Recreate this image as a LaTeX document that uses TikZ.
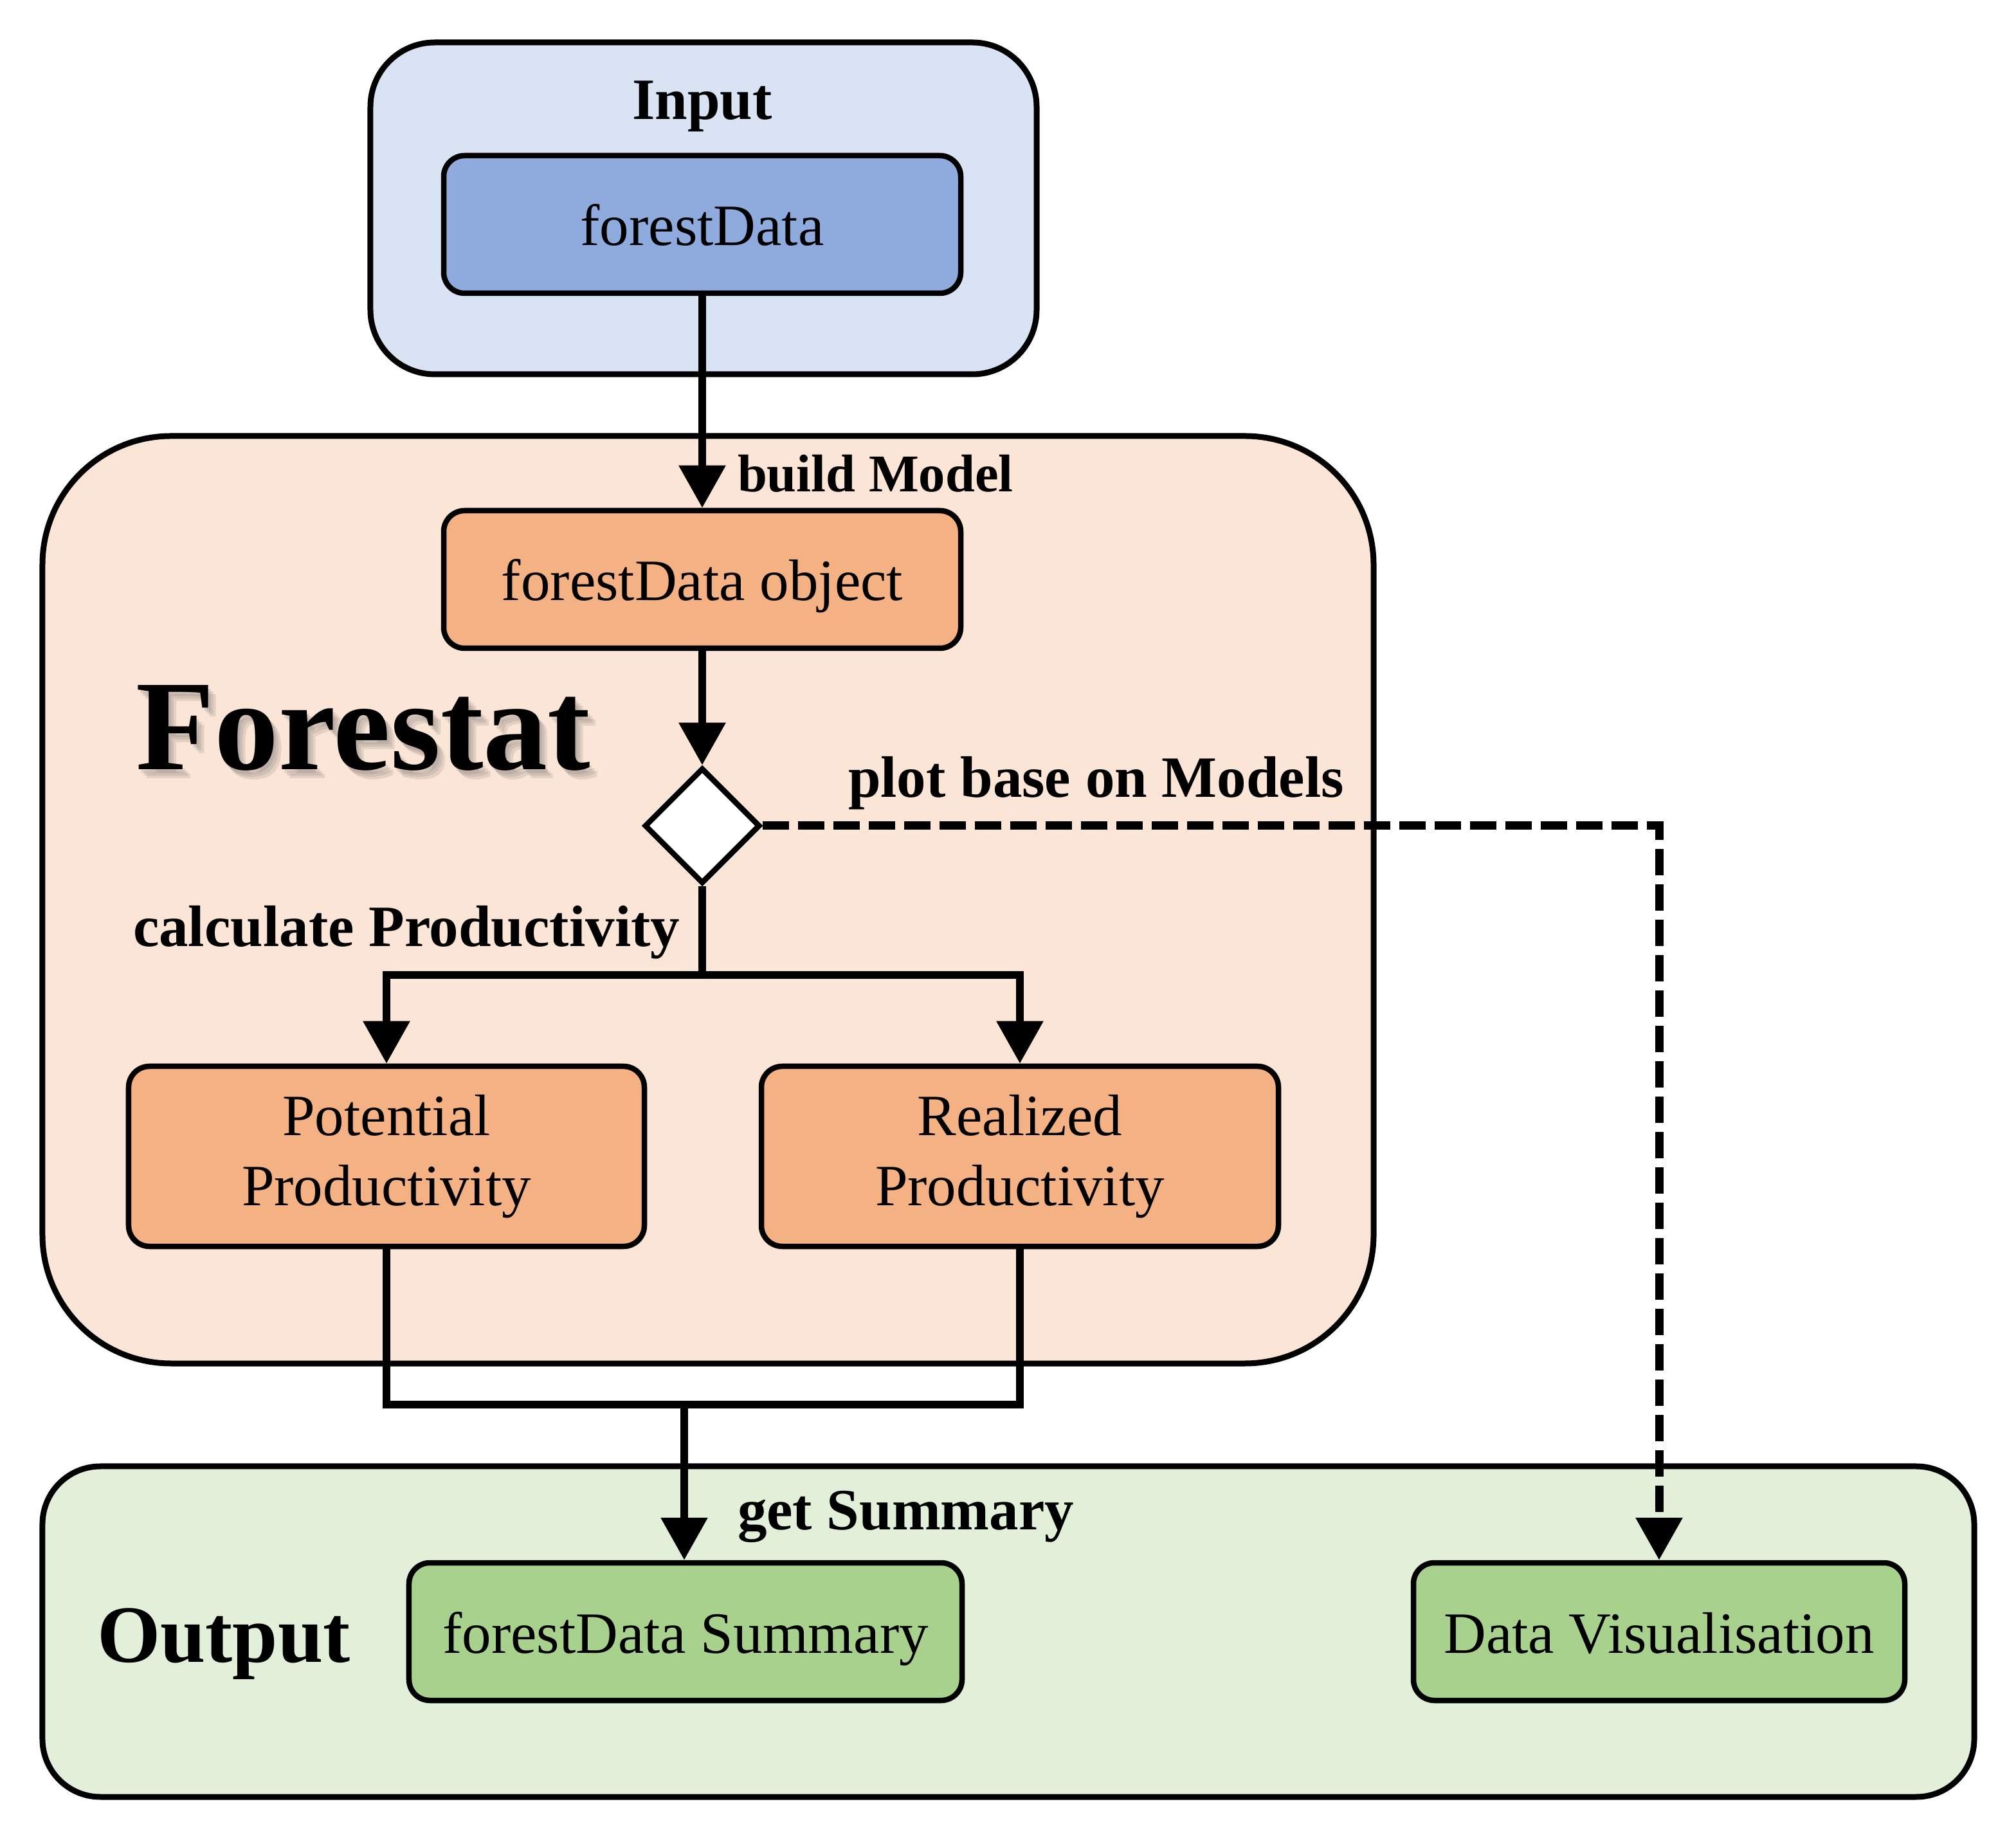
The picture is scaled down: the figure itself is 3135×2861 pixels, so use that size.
\documentclass[tikz,border=0pt]{standalone}
\usepackage{fontspec}
\setmainfont{Liberation Serif}
\usetikzlibrary{arrows.meta,shapes.geometric}
\definecolor{inbg}{HTML}{DAE3F3}
\definecolor{innode}{HTML}{8FAADC}
\definecolor{fsbg}{HTML}{FBE5D6}
\definecolor{fsnode}{HTML}{F4B183}
\definecolor{outbg}{HTML}{E2F0D9}
\definecolor{outnode}{HTML}{A9D18E}
\newcommand{\mytopstrut}{\rule{0pt}{17.2pt}}
\newcommand{\mybotstrut}{\rule[-4pt]{0pt}{4pt}}
\tikzset{
  container/.style={draw=black, line width=1.8pt, inner sep=0pt},
  box/.style={draw=black, line width=1.7pt, rounded corners=6.5pt, inner sep=0pt, align=center,
    font=\fontsize{18.2}{21.8}\selectfont,
    execute at begin node=\mytopstrut, execute at end node=\mybotstrut},
  lbl/.style={inner sep=0pt, anchor=base west, font=\fontsize{18.2}{21.8}\selectfont\bfseries},
  conn/.style={line width=2.5pt, -{Triangle[length=13.2pt,width=14pt]}},
  plainconn/.style={line width=2.5pt},
  dconn/.style={line width=2.6pt, dash pattern=on 8.2pt off 2.8pt, -{Triangle[length=13.2pt,width=14pt]}},
  shadowtext/.style={inner sep=0pt, anchor=base west, font=\fontsize{40}{48}\selectfont\bfseries, text=black!60, opacity=0.16},
}
\begin{document}
\begin{tikzpicture}[x=0.2pt,y=-0.2pt]
\useasboundingbox (0,0) rectangle (3135,2861);
% containers
\node[container, fill=inbg, rounded corners=20pt, minimum width=207.2pt, minimum height=103.2pt] (inputc) at (1094,324) {};
\node[container, fill=fsbg, rounded corners=40pt, minimum width=414pt, minimum height=288.4pt] (forestc) at (1101,1399) {};
\node[container, fill=outbg, rounded corners=18pt, minimum width=600.8pt, minimum height=102.8pt] (outputc) at (1568,2537) {};
% container titles
\node[inner sep=0pt, anchor=base, font=\fontsize{18.2}{21.8}\selectfont\bfseries] (inputt) at (1092,186) {Input};
\node[shadowtext] (forestshadowa) at (214,1203) {Forestat};
\node[shadowtext] (forestshadowb) at (218,1207) {Forestat};
\node[shadowtext] (forestshadowc) at (222,1211) {Forestat};
\node[inner sep=0pt, anchor=base west, font=\fontsize{40}{48}\selectfont\bfseries] (forestt) at (210,1197) {Forestat};
\node[inner sep=0pt, anchor=base west, font=\fontsize{25.3}{30}\selectfont\bfseries] (outputt) at (150,2584) {Output};
% nodes
\node[box, fill=innode, minimum width=160.8pt, minimum height=42.8pt] (fd) at (1092,349) {forestData};
\node[box, fill=fsnode, minimum width=160.8pt, minimum height=42.8pt] (fdo) at (1092,901) {forestData object};
\node[diamond, draw=black, fill=white, line width=1.7pt, minimum width=36pt, minimum height=36pt, inner sep=0pt] (dia) at (1092,1284) {};
\node[box, fill=fsnode, minimum width=160.4pt, minimum height=56pt] (pot) at (601,1798) {Potential\\Productivity};
\node[box, fill=fsnode, minimum width=160.8pt, minimum height=56pt] (real) at (1586,1798) {Realized\\Productivity};
\node[box, fill=outnode, minimum width=172pt, minimum height=42.8pt] (sum) at (1066,2537) {forestData Summary};
\node[box, fill=outnode, minimum width=152.8pt, minimum height=42.8pt] (vis) at (2580,2537) {Data Visualisation};
% labels
\node[lbl, font=\fontsize{16.5}{20}\selectfont\bfseries] (lbuild) at (1146,765) {build Model};
\node[lbl] (lplot) at (1318,1240) {plot base on Models};
\node[lbl] (lcalc) at (206,1472) {calculate Productivity};
\node[lbl] (lsum) at (1146,2378) {get Summary};
% coordinates
\coordinate (split) at (1092,1516);
\coordinate (merge) at (1064,2184);
% connectors
\draw[conn] (fd.south) -- (fdo.north);
\draw[conn] (fdo.south) -- (dia.north);
\draw[plainconn] (dia.south) -- (split);
\draw[conn] (split) -| (pot.north);
\draw[conn] (split) -| (real.north);
\draw[plainconn] (pot.south) |- (merge) -| (real.south);
\draw[conn] (merge) -- (merge |- sum.north);
\draw[dconn] (dia.east) -| (vis.north);
\end{tikzpicture}
\end{document}
